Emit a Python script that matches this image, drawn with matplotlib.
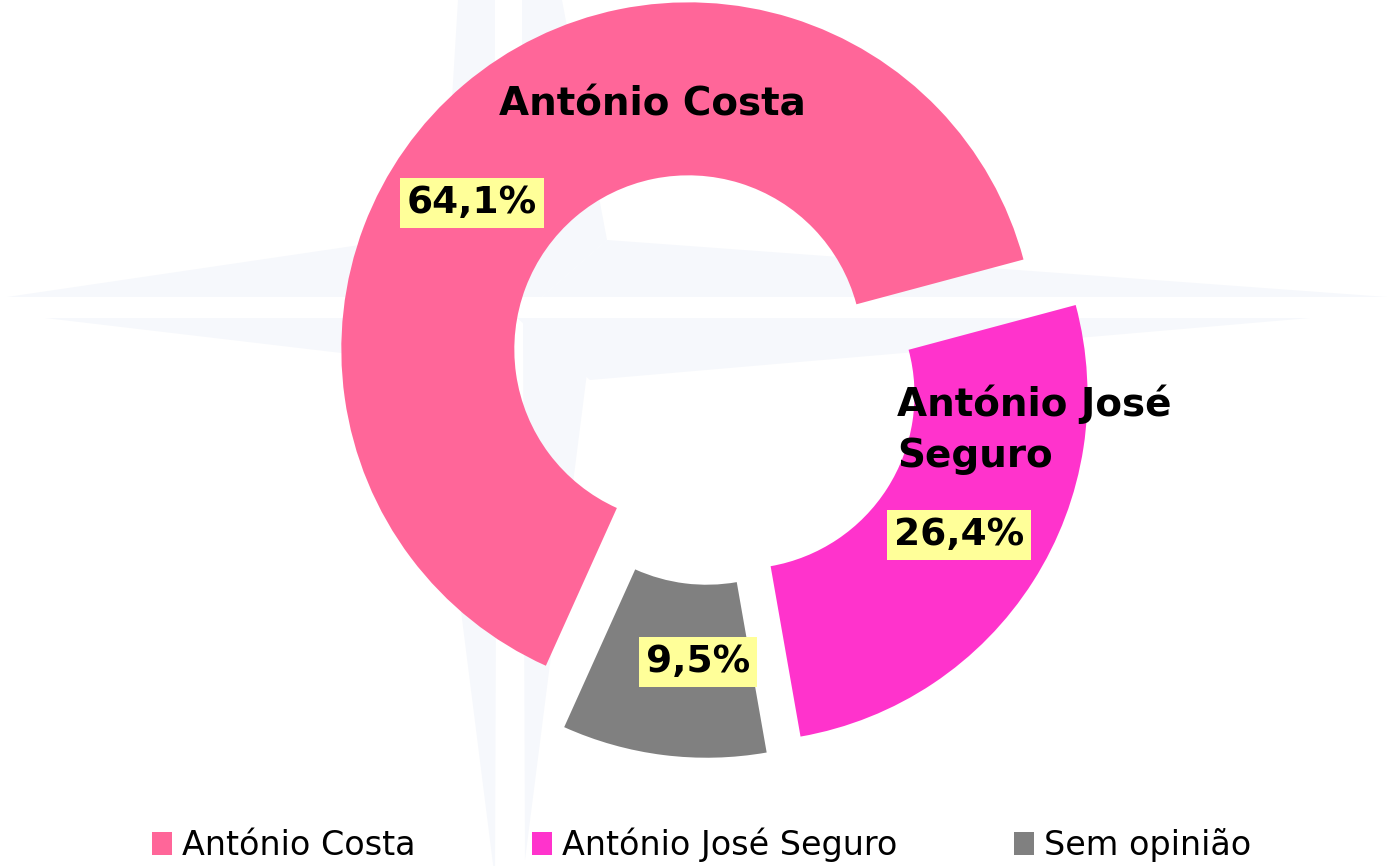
import numpy as np
import matplotlib.pyplot as plt
from matplotlib.patches import Polygon

# data
names = ['António Costa', 'António José Seguro', 'Sem opinião']
values = [64.1, 26.4, 9.5]
colors = ['#FF6699', '#FF33CC', '#808080']

# draw order around the ring (counter clockwise from the right)
order = [0, 2, 1]

W, H = 1389, 866
fig = plt.figure(figsize=(W / 100, H / 100), dpi=100)
ax = fig.add_axes([0, 0, 1, 1])


def yy(y):
    return H - y


# faint compass star in the background (pixel coords, y down)
star = [
    [(7, 297), (455, 231), (500, 297)],                 # left arm, upper
    [(45, 318), (460, 367), (500, 318)],                # left arm, lower
    [(542, 297), (607, 240), (1387, 297)],              # right arm, upper
    [(517, 318), (1310, 318), (590, 380)],              # right arm, lower
    [(458, 0), (495, 0), (495, 297), (440, 297)],       # top arm, left
    [(522, 0), (562, 0), (607, 240), (542, 297), (522, 297)],  # top arm, right
    [(424, 318), (497, 318), (495, 880)],               # bottom arm, left
    [(523, 318), (594, 318), (525, 860)],               # bottom arm, right
]
for pts in star:
    ax.add_patch(Polygon([(x, yy(y)) for x, y in pts], closed=True,
                         facecolor='#F6F8FC', edgecolor='none', zorder=0))

R = 347
wedges, _ = ax.pie([values[i] for i in order],
                   colors=[colors[i] for i in order],
                   startangle=15, counterclock=True,
                   radius=R, center=(711, yy(376)),
                   explode=[35, 35, 35],
                   wedgeprops=dict(width=173, edgecolor='none', linewidth=0))
for w in wedges:
    w.set_zorder(2)

ax.set_xlim(0, W)
ax.set_ylim(0, H)
ax.set_aspect('equal')
ax.axis('off')

# names on the ring
ax.text(652, yy(115), names[0], ha='center', va='baseline',
        fontsize=28, fontweight='bold', color='black', zorder=5)
# baseline of the last line
ax.text(897, yy(467), 'António José\nSeguro', ha='left', va='baseline',
        fontsize=28, fontweight='bold', color='black', linespacing=1.42,
        zorder=5)

# percentage labels
pct_pos = [(472, 203), (959, 535), (698, 662)]
for v, (x, y) in zip(values, pct_pos):
    lbl = f'{v:.1f}'.replace('.', ',') + '%'
    ax.text(x, yy(y), lbl, ha='center', va='center', fontsize=27,
            fontweight='bold', color='black', zorder=5,
            bbox=dict(boxstyle='square,pad=0.18', facecolor='#FFFF99',
                      edgecolor='none'))

# legend in the original order
handles = [wedges[order.index(i)] for i in range(3)]
fig.legend(handles, names, loc='center', bbox_to_anchor=(702 / W, yy(845) / H),
           ncol=3, frameon=False, fontsize=24, handlelength=0.6,
           handleheight=0.7, handletextpad=0.3, columnspacing=3.5,
           borderpad=0)

fig.savefig('out.png', dpi=100)
